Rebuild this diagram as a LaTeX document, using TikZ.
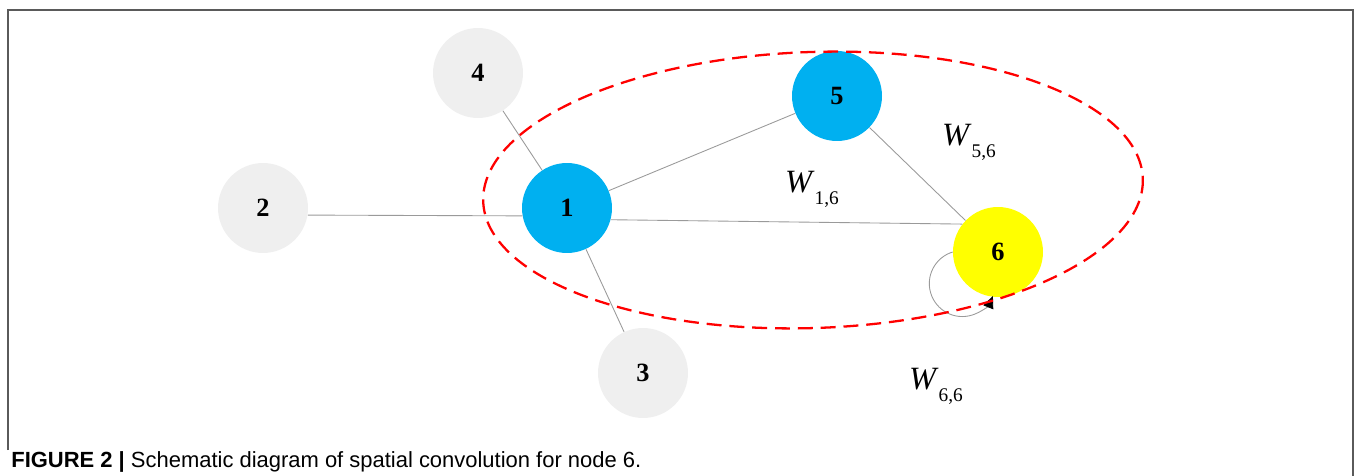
\documentclass[tikz,border=0pt]{standalone}
\usepackage{fontspec}
\setmainfont{Liberation Serif}
\setsansfont{Liberation Sans}
\usetikzlibrary{arrows.meta}

\definecolor{vertexgray}{HTML}{EFEFEF}
\definecolor{vertexblue}{HTML}{00B0F0}
\definecolor{vertexyellow}{HTML}{FFFF00}
\definecolor{edgegray}{HTML}{9A9A9A}
\definecolor{framegray}{HTML}{5A5A5A}

\begin{document}
\begin{tikzpicture}[x=0.02cm,y=-0.02cm,
	every vertex/.style={circle,minimum size=1.8cm,inner sep=0pt,
		font=\fontsize{15}{15}\selectfont\bfseries},
	edge/.style={draw=edgegray,line width=0.5pt},
	weight/.style={inner sep=0pt,font=\fontsize{18.5}{18.5}\selectfont},
	region/.style={draw=red,line width=1.3pt,dash pattern=on 8.5pt off 4.5pt}]
	\useasboundingbox (0,0) rectangle (1356,476);
	\draw[framegray,line width=0.9pt] (8,450) |- (1353,10) -- (1353,476);
	% vertices
	\foreach \m/\x/\y/\c in {1/567/208/vertexblue,2/263/208/vertexgray,
		3/643/373/vertexgray,4/478/73/vertexgray,5/837/96/vertexblue,
		6/998/252/vertexyellow}
		\node [every vertex, fill=\c] (v-\m) at (\x,\y) {\m};
	% edges
	\draw [edge] (v-2.-9) -- (v-1.190);
	\foreach \a/\b in {4/1,1/3,1/5,5/6}
		\draw [edge] (v-\a) -- (v-\b);
	\draw [edge] (v-1.-15) -- (v-6.142);
	\draw [edge,-{Triangle[length=7pt,width=6pt,black]}] (v-6.west)
		arc[start angle=-107,end angle=-338,radius=33];
	% neighbourhood of node 6
	\draw [region,rotate around={2:(813,190)}] (813,190) ellipse[x radius=330,y radius=138];
	% weights
	\foreach \n/\l/\x/\y in {56/{5,6}/969/142,16/{1,6}/812/189,66/{6,6}/936/386}
		\node [weight] (w-\n) at (\x,\y)
			{\textit{W}\raisebox{-7pt}{\fontsize{11}{11}\selectfont\l}};
	\node [anchor=base west,inner sep=0pt,font=\sffamily\fontsize{12.5}{13}\selectfont]
		(caption) at (11,467)
		{\textbf{FIGURE 2 |} Schematic diagram of spatial convolution for node 6.};
\end{tikzpicture}
\end{document}
